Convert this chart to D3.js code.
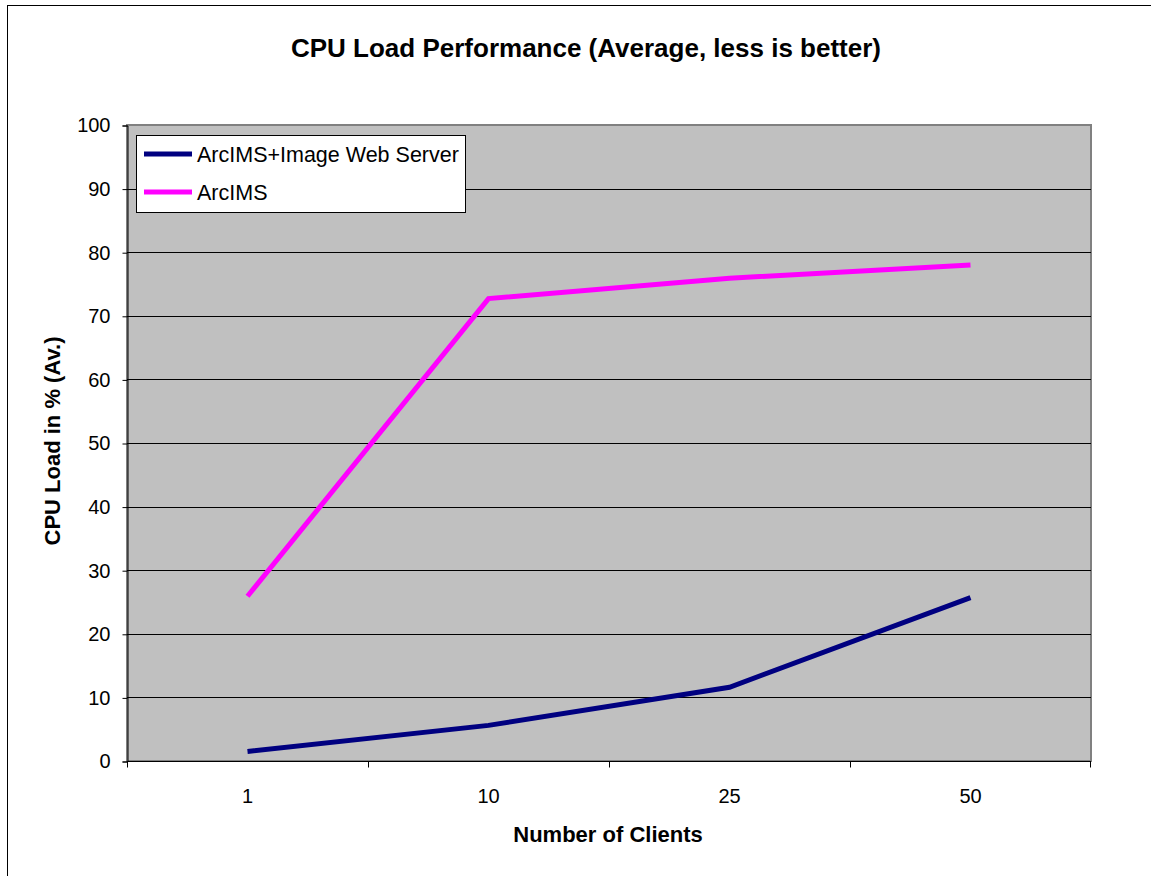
<!DOCTYPE html>
<html>
<head>
<meta charset="utf-8">
<script src="https://cdn.jsdelivr.net/npm/d3@7"></script>
<style>
  body { margin: 0; background: #fff; }
  text { font-family: "Liberation Sans", Arial, sans-serif; }
</style>
</head>
<body>
<div id="canvas"></div>
<script>
// Data
var categories = ["1", "10", "25", "50"]
var series_names = ["ArcIMS+Image Web Server", "ArcIMS"]
var iws_values = [1.5, 5.6, 11.6, 25.7]
var arcims_values = [25.9, 72.7, 75.9, 78.0]
var y_ticks = [0, 10, 20, 30, 40, 50, 60, 70, 80, 90, 100]
var series_colours = ["#000080", "#ff00ff"]

// Display variables
var total_width = 1151, total_height = 876
var plot = {left: 127, top: 125, right: 1091, bottom: 761}

var svg = d3.select("#canvas").append("svg").attr("width", total_width).attr("height", total_height)

// Chart border (only left and top fall inside the picture)
svg.append("rect")
    .attr("x", 7.5).attr("y", 5.5)
    .attr("width", 1200).attr("height", 1000)
    .attr("fill", "#fff").attr("stroke", "#000").attr("stroke-width", 1)

// Scales
var x = d3.scaleBand().domain(categories).range([plot.left, plot.right])
var y = d3.scaleLinear().domain([0, 100]).range([plot.bottom, plot.top])

// Plot area
svg.append("rect")
    .attr("x", plot.left).attr("y", plot.top)
    .attr("width", plot.right - plot.left).attr("height", plot.bottom - plot.top)
    .attr("fill", "#c0c0c0").attr("stroke", "#808080").attr("stroke-width", 2)

// Gridlines
svg.append("g").selectAll("line")
    .data(y_ticks.slice(1, -1))
    .enter().append("line")
    .attr("x1", plot.left).attr("x2", plot.right)
    .attr("y1", d => Math.round(y(d)) + 0.5).attr("y2", d => Math.round(y(d)) + 0.5)
    .attr("stroke", "#000").attr("stroke-width", 1)

// Y axis
var y_axis = svg.append("g")
    .attr("transform", "translate(" + (plot.left + 0.5) + ",0.5)")
    .call(d3.axisLeft(y).tickValues(y_ticks).tickSize(5).tickPadding(12))
y_axis.selectAll("text").style("font-size", "20px").attr("fill", "#000")
y_axis.select(".domain").attr("stroke", "#000")

// X axis
var x_axis = svg.append("g")
    .attr("transform", "translate(0," + (plot.bottom + 0.5) + ")")
x_axis.append("line")
    .attr("x1", plot.left).attr("x2", plot.right).attr("stroke", "#000")
x_axis.selectAll(".tick_mark")
    .data(categories.concat(["end"]))
    .enter().append("line")
    .attr("class", "tick_mark")
    .attr("x1", d => d == "end" ? plot.right - 0.5 : Math.round(x(d)) + 0.5)
    .attr("x2", d => d == "end" ? plot.right - 0.5 : Math.round(x(d)) + 0.5)
    .attr("y1", 0).attr("y2", 6).attr("stroke", "#000")
x_axis.selectAll(".tick_label")
    .data(categories)
    .enter().append("text")
    .attr("x", d => x(d) + x.bandwidth() / 2)
    .attr("y", 41)
    .attr("text-anchor", "middle")
    .style("font-size", "20px")
    .text(d => d)

// Lines
var line = d3.line()
    .x((d, i) => x(categories[i]) + x.bandwidth() / 2)
    .y(d => y(d))
var all_series = [iws_values, arcims_values]
svg.append("g").selectAll("path")
    .data(all_series)
    .enter().append("path")
    .attr("d", line)
    .attr("fill", "none")
    .attr("stroke", (d, i) => series_colours[i])
    .attr("stroke-width", 5)
    .attr("stroke-linejoin", "miter")

// Legend
var legend = svg.append("g").attr("transform", "translate(136,135)")
legend.append("rect")
    .attr("x", 0.5).attr("y", 0.5).attr("width", 329).attr("height", 77)
    .attr("fill", "#fff").attr("stroke", "#000")
series_names.forEach(function (name, i) {
    var ly = 19 + i * 38
    legend.append("line")
        .attr("x1", 8).attr("x2", 56).attr("y1", ly).attr("y2", ly)
        .attr("stroke", series_colours[i]).attr("stroke-width", 5)
    legend.append("text")
        .attr("x", 61).attr("y", ly + 8)
        .style("font-size", "21.5px")
        .text(name)
})

// Titles
svg.append("text")
    .attr("x", 586).attr("y", 57)
    .attr("text-anchor", "middle")
    .style("font-size", "26px").style("font-weight", "bold")
    .text("CPU Load Performance (Average, less is better)")
svg.append("text")
    .attr("x", 608).attr("y", 842)
    .attr("text-anchor", "middle")
    .style("font-size", "22px").style("font-weight", "bold")
    .text("Number of Clients")
svg.append("text")
    .attr("transform", "translate(60,441) rotate(-90)")
    .attr("text-anchor", "middle")
    .style("font-size", "22px").style("font-weight", "bold")
    .text("CPU Load in % (Av.)")
</script>
</body>
</html>
